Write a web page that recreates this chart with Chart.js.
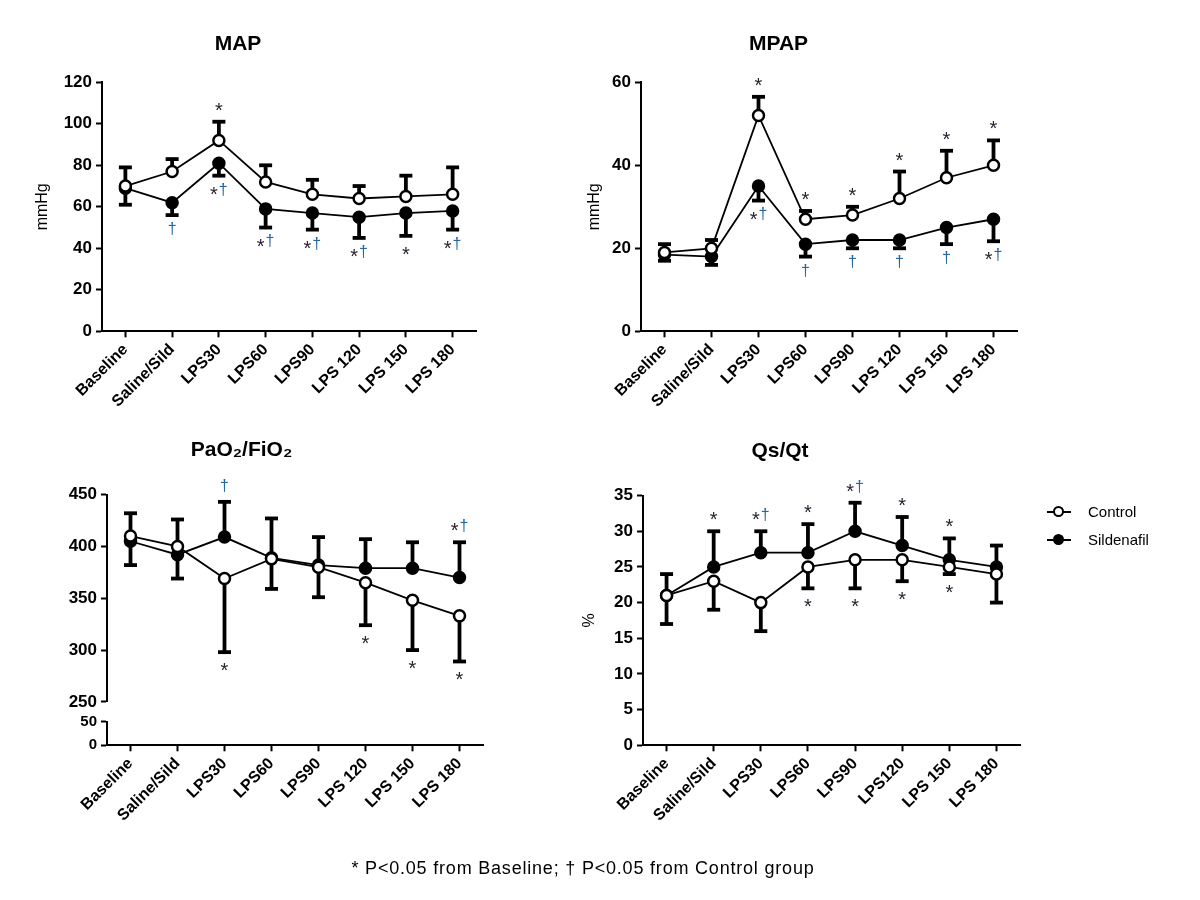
<!DOCTYPE html>
<html>
<head>
<meta charset="utf-8">
<script src="https://cdn.jsdelivr.net/npm/chart.js@4.4.1/dist/chart.umd.min.js"></script>
<style>
  body { margin:0; background:#fff; width:1200px; height:900px; position:relative; overflow:hidden;
         font-family:'Liberation Sans', Arial, sans-serif; color:#000; }
  canvas { position:absolute; }
  .leg { position:absolute; left:1045px; font-size:15px; height:20px; line-height:20px; }
  .leg .ln { position:absolute; left:2px; top:9px; width:24px; height:2px; background:#000; }
  .leg .mk { position:absolute; left:8px; top:4px; width:7px; height:7px; border:2.5px solid #000; border-radius:50%; }
  .leg .tx { position:absolute; left:43px; top:0; white-space:nowrap; }
  #foot { position:absolute; left:0; width:1166px; top:858px; text-align:center; font-size:18px; letter-spacing:0.8px; }
</style>
</head>
<body>
<canvas id="cMAP"></canvas>
<canvas id="cMPAP"></canvas>
<canvas id="cPAO"></canvas>
<canvas id="cQS"></canvas>
<div class="leg" style="top:502px"><div class="ln"></div><div class="mk" style="background:#fff"></div><div class="tx">Control</div></div>
<div class="leg" style="top:530px"><div class="ln"></div><div class="mk" style="background:#000"></div><div class="tx">Sildenafil</div></div>
<div id="foot">* P&lt;0.05 from Baseline; † P&lt;0.05 from Control group</div>
<script>
// ---------- data ----------
const categories   = ['Baseline', 'Saline/Sild', 'LPS30', 'LPS60', 'LPS90', 'LPS 120', 'LPS 150', 'LPS 180'];
const categoriesQs = ['Baseline', 'Saline/Sild', 'LPS30', 'LPS60', 'LPS90', 'LPS120', 'LPS 150', 'LPS 180'];
const seriesNames  = ['Control', 'Sildenafil'];

// MAP (mmHg)
const mapControl   = [70, 77, 92, 72, 66, 64, 65, 66];
const mapControlSD = [9, 6, 9, 8, 7, 6, 10, 13];
const mapSild      = [69, 62, 81, 59, 57, 55, 57, 58];
const mapSildSD    = [8, 6, 6, 9, 8, 10, 11, 9];
const mapAbove     = ['', '', '*', '', '', '', '', ''];
const mapBelow     = ['', '†', '*†', '*†', '*†', '*†', '*', '*†'];
const mapTicks     = [0, 120, 20];

// MPAP (mmHg)
const mpapControl   = [19, 20, 52, 27, 28, 32, 37, 40];
const mpapControlSD = [2, 2, 4.5, 2, 2, 6.5, 6.5, 6];
const mpapSild      = [18.5, 18, 35, 21, 22, 22, 25, 27];
const mpapSildSD    = [1.5, 2, 3.5, 3, 2, 2, 4, 5.3];
const mpapAbove     = ['', '', '*', '*', '*', '*', '*', '*'];
const mpapBelow     = ['', '', '*†', '†', '†', '†', '†', '*†'];
const mpapTicks     = [0, 60, 20];

// PaO2/FiO2 (broken axis: 0-50 and 250-450)
const paoControl   = [410, 400, 369, 388, 380, 365, 348, 333];
const paoControlSD = [28, 31, 71, 29, 29, 41, 48, 44];
const paoSild      = [405, 392, 409, 389, 382, 379, 379, 370];
const paoSildSD    = [27, 34, 34, 38, 27, 28, 25, 34];
const paoAbove     = ['', '', '†', '', '', '', '', '*†'];
const paoBelow     = ['', '', '*', '', '', '*', '*', '*'];
const paoUpperTicks = [250, 450, 50];
const paoLowerTicks = [0, 50, 50];

// Qs/Qt (%)
const qsControl   = [21, 23, 20, 25, 26, 26, 25, 24];
const qsControlSD = [4, 4, 4, 3, 4, 3, 1, 4];
const qsSild      = [21, 25, 27, 27, 30, 28, 26, 25];
const qsSildSD    = [3, 5, 3, 4, 4, 4, 3, 3];
const qsAbove     = ['', '*', '*†', '*', '*†', '*', '*', ''];
const qsBelow     = ['', '', '', '*', '*', '*', '*', ''];
const qsTicks     = [0, 35, 5];

// ---------- style ----------
const FONT = "'Liberation Sans', Arial, sans-serif";
Chart.defaults.font.family = FONT;
Chart.defaults.color = '#000';

const errorBarPlugin = {
  id: 'errorBars',
  beforeDatasetsDraw(chart) {
    const ctx = chart.ctx, xs = chart.scales.x;
    ctx.save();
    ctx.strokeStyle = '#000';
    ctx.lineCap = 'butt';
    chart.data.datasets.forEach(ds => {
      const ys = chart.scales[ds.yAxisID || 'y'];
      ds.data.forEach((v, i) => {
        const e = ds.errors[i];
        const end = ds.errorDir === 'up' ? v + e : v - e;
        const px = xs.getPixelForValue(i);
        const p0 = ys.getPixelForValue(v), p1 = ys.getPixelForValue(end);
        ctx.lineWidth = 3.8;
        ctx.beginPath(); ctx.moveTo(px, p0); ctx.lineTo(px, p1); ctx.stroke();
        ctx.lineWidth = 3.8;
        ctx.beginPath(); ctx.moveTo(px - 6.5, p1); ctx.lineTo(px + 6.5, p1); ctx.stroke();
      });
    });
    ctx.restore();
  }
};

function drawMark(ctx, text, cx, cy) {
  if (!text) return;
  ctx.textBaseline = 'middle';
  ctx.textAlign = 'left';
  const chars = Array.from(text);
  const gap = 1;
  const fontFor = c => (c === '*' ? '20px ' : '16px ') + FONT;
  const widths = chars.map(c => { ctx.font = fontFor(c); return ctx.measureText(c).width; });
  const total = widths.reduce((a, b) => a + b, 0) + gap * (chars.length - 1);
  let x = cx - total / 2;
  chars.forEach((c, k) => {
    ctx.font = fontFor(c);
    if (c === '*') { ctx.fillStyle = '#2a2230'; ctx.fillText(c, x, cy + 4.5); }
    else { ctx.fillStyle = '#2466a0'; ctx.fillText(c, x, cy - 0.5); }
    x += widths[k] + gap;
  });
}

const sigPlugin = {
  id: 'sigMarks',
  afterDatasetsDraw(chart, args, opts) {
    if (!opts || !opts.above) return;
    const ctx = chart.ctx, xs = chart.scales.x;
    ctx.save();
    for (let i = 0; i < chart.data.labels.length; i++) {
      let top = Infinity, bottom = -Infinity;
      chart.data.datasets.forEach(ds => {
        const ys = chart.scales[ds.yAxisID || 'y'];
        const v = ds.data[i], e = ds.errors[i];
        const end = ds.errorDir === 'up' ? v + e : v - e;
        [v, end].forEach(val => {
          const p = ys.getPixelForValue(val);
          top = Math.min(top, p); bottom = Math.max(bottom, p);
        });
      });
      const px = xs.getPixelForValue(i);
      drawMark(ctx, opts.above[i], px, top - opts.gap);
      drawMark(ctx, opts.below[i], px, bottom + opts.gap);
    }
    ctx.restore();
  }
};

function lineDataset(label, data, errors, dir, filled, axisId) {
  return {
    label, data, errors, errorDir: dir, yAxisID: axisId || 'y',
    borderColor: '#000', borderWidth: 1.8,
    pointRadius: 5.5, pointHoverRadius: 5.5, pointBorderWidth: 2.5,
    pointBorderColor: '#000', pointBackgroundColor: filled ? '#000' : '#fff',
    tension: 0, fill: false, clip: false
  };
}

function axisStyle() {
  return {
    grid: { drawOnChartArea: false, drawTicks: true, tickLength: 6, tickWidth: 2, color: '#000', offset: false },
    border: { display: true, color: '#000', width: 2 }
  };
}

function build(id, box, area, title, yTitle, labels, datasets, yScales, above, below) {
  const cv = document.getElementById(id);
  cv.width = box.w; cv.height = box.h;
  cv.style.left = box.x + 'px'; cv.style.top = box.y + 'px';
  const yW = area.left - box.x;
  const xH = (box.y + box.h) - area.bottom;
  const padR = (box.x + box.w) - area.right;
  const titleLH = 21 * 1.2;
  const scales = {
    x: Object.assign(axisStyle(), {
      type: 'category', offset: true,
      ticks: { autoSkip: false, minRotation: 45, maxRotation: 45, padding: 3,
               font: { size: 16, weight: 'bold' }, color: '#000' },
      afterFit(s) { s.height = xH; }
    })
  };
  Object.keys(yScales).forEach(k => {
    const sc = yScales[k];
    if (sc.gap) {
      scales[k] = { type: 'linear', position: 'left', stack: 'main', stackWeight: sc.weight,
        display: true, grid: { display: false }, border: { display: false }, ticks: { display: false },
        afterFit(s) { s.width = yW; } };
      return;
    }
    const [mn, mx, step] = sc.ticks;
    scales[k] = Object.assign(axisStyle(), {
      type: 'linear', position: 'left', min: mn, max: mx,
      ticks: { stepSize: step, autoSkip: false, padding: 4,
               font: { size: sc.small ? 15 : 17, weight: 'bold' }, color: '#000' },
      title: { display: false },
      afterFit(s) { s.width = yW; }
    });
    if (yTitle && sc.title) {
      scales[k].title = { display: true, text: yTitle.text, font: { size: 16 }, color: '#000',
                          padding: { top: yTitle.pad, bottom: 0 } };
    }
    if (sc.weight) { scales[k].stack = 'main'; scales[k].stackWeight = sc.weight; }
  });
  return new Chart(cv, {
    type: 'line',
    data: { labels, datasets },
    options: {
      responsive: false, animation: false,
      layout: { padding: { top: 0, left: 0, right: padR, bottom: 0 } },
      plugins: {
        legend: { display: false },
        tooltip: { enabled: false },
        title: { display: true, text: title, font: { size: 21, weight: 'bold' }, color: '#000',
                 padding: { top: 0, bottom: area.top - box.y - titleLH } },
        sigMarks: { above, below, gap: 15 }
      },
      scales
    },
    plugins: [errorBarPlugin, sigPlugin]
  });
}

// MAP
build('cMAP', { x: 0, y: 32.4, w: 533, h: 420 }, { left: 102, right: 476, top: 82.7, bottom: 331.7 },
  'MAP', { text: 'mmHg', pad: 33 }, categories,
  [lineDataset(seriesNames[0], mapControl, mapControlSD, 'up', false),
   lineDataset(seriesNames[1], mapSild, mapSildSD, 'down', true)],
  { y: { ticks: mapTicks, title: true } }, mapAbove, mapBelow);

// MPAP
build('cMPAP', { x: 540, y: 32.4, w: 532, h: 420 }, { left: 641, right: 1017, top: 82.7, bottom: 331.7 },
  'MPAP', { text: 'mmHg', pad: 45 }, categories,
  [lineDataset(seriesNames[0], mpapControl, mpapControlSD, 'up', false),
   lineDataset(seriesNames[1], mpapSild, mpapSildSD, 'down', true)],
  { y: { ticks: mpapTicks, title: true } }, mpapAbove, mpapBelow);

// PaO2/FiO2 with broken axis (stacked scales; later-defined is placed on top)
build('cPAO', { x: 0, y: 438.4, w: 548, h: 420 }, { left: 107, right: 483, top: 495, bottom: 745.7 },
  'PaO₂/FiO₂', null, categories,
  [lineDataset(seriesNames[0], paoControl, paoControlSD, 'down', false, 'y'),
   lineDataset(seriesNames[1], paoSild, paoSildSD, 'up', true, 'y')],
  { yLow: { ticks: paoLowerTicks, weight: 23.4, small: true },
    yGap: { gap: true, weight: 20 },
    y: { ticks: paoUpperTicks, weight: 207.3 } }, paoAbove, paoBelow);

// Qs/Qt
build('cQS', { x: 540, y: 439.4, w: 560, h: 420 }, { left: 643, right: 1020, top: 496, bottom: 745.7 },
  'Qs/Qt', { text: '%', pad: 40 }, categoriesQs,
  [lineDataset(seriesNames[0], qsControl, qsControlSD, 'down', false),
   lineDataset(seriesNames[1], qsSild, qsSildSD, 'up', true)],
  { y: { ticks: qsTicks, title: true } }, qsAbove, qsBelow);
</script>
</body>
</html>
